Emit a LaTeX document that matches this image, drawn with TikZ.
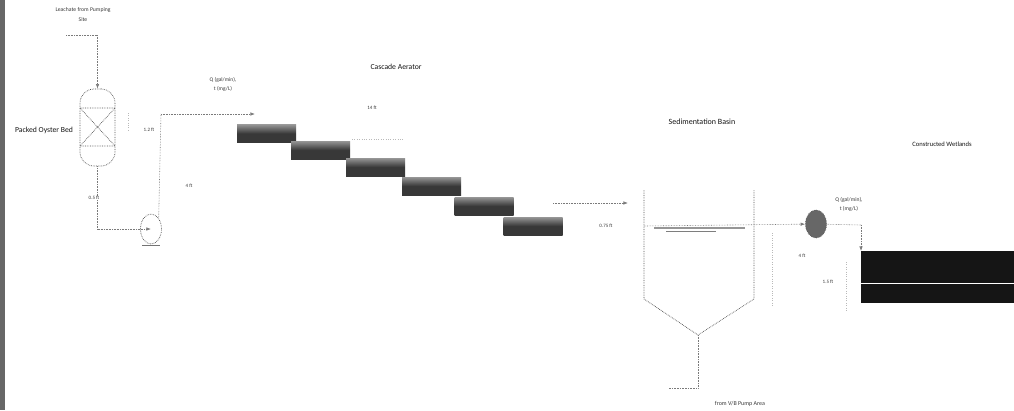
\documentclass[tikz,border=0pt]{standalone}
\usepackage{xcolor}
\usepackage{fontspec}
\setmainfont{Carlito}
\usetikzlibrary{arrows.meta,positioning,calc,shapes.geometric}
\definecolor{Ink}{HTML}{151515}
\definecolor{Pipe}{HTML}{7A7A7A}

\begin{document}
\begin{tikzpicture}[
  x=1pt, y=-1pt,
  pipe/.style={densely dotted, line width=0.6pt, draw=Pipe},
  shell/.style={line width=0.7pt, draw=Ink!75, densely dotted},
  arrow/.style={pipe, -{Latex[length=1.6mm]}},
  faint/.style={dotted, line width=0.4pt, draw=Ink!30},
  tray/.style={draw=none, inner sep=0pt, minimum width=59pt, minimum height=18pt, top color=Ink!45, bottom color=Ink!85, middle color=Ink!85},
  tag/.style={font=\fontsize{5pt}{6pt}\selectfont, text=Ink!85, align=center, inner sep=0pt},
  title/.style={font=\fontsize{7.7pt}{9pt}\selectfont, text=Ink, align=center, inner sep=0pt}
]
  \useasboundingbox (0,0) rectangle (1014,410);
  \fill[Ink!65] (0,0) rectangle (5,410);

  % oyster bed and pump
  \node[shell, draw, rounded corners=14pt, minimum width=35pt, minimum height=77pt, inner sep=0pt] (bed) at (97.5,127.5) {};
  \node[shell, draw, ellipse, minimum width=21pt, minimum height=30pt, inner sep=0pt] (pump) at (151,229) {};
  \coordinate (bedNW) at (80,108);
  \coordinate (bedNE) at (115,108);
  \coordinate (bedSW) at (80,146);
  \coordinate (bedSE) at (115,146);
  \draw[shell] (bedNW) -- (bedNE) -- (bedSW) -- (bedSE) -- (bedNW) -- cycle;
  \draw[line width=1pt, draw=Ink!60] (142,245) -- (160,245);
  \coordinate (feed) at (66,35);
  \coordinate (feedTurn) at (97.5,35);
  \coordinate (bedOut) at (97.5,229);
  \coordinate (riserTurn) at (161,114);
  \coordinate (riserEnd) at (255,114);

  % cascade trays
  \node[tray] (tray1) at (266.5,133.5) {};
  \node[tray] (tray2) at (320.5,150) {};
  \node[tray] (tray3) at (375.5,167) {};
  \node[tray] (tray4) at (431.5,186) {};
  \node[tray] (tray5) at (484,206) {};
  \node[tray] (tray6) at (533,226) {};
  \coordinate (dropA) at (553,203);
  \coordinate (dropB) at (628,203);

  % basin
  \coordinate (basinNW) at (644,190);
  \coordinate (basinNE) at (754,190);
  \coordinate (basinSW) at (644,299);
  \coordinate (basinSE) at (754,299);
  \coordinate (basinTip) at (698,335);
  \coordinate (drainTurn) at (698,388);
  \coordinate (drainEnd) at (669,388);
  \coordinate (levelW) at (644,226);
  \draw[shell] (basinNW) -- (basinSW) -- (basinTip) -- (basinSE) -- (basinNE);
  \draw[line width=1.2pt, draw=Ink!45] (654,228) -- (745,228);
  \draw[line width=0.8pt, draw=Ink!55] (666,231) -- (716,231);

  % wetlands
  \node[shell, draw=Ink!70, ellipse, fill=Ink!65, minimum width=21pt, minimum height=28pt, inner sep=0pt] (filter) at (816,224) {};
  \node[draw=none, fill=Ink, anchor=north west, minimum width=153pt, minimum height=52pt, inner sep=0pt] (wetland) at (861,251) {};
  \draw[white, line width=0.6pt] (wetland.west |- 0,283) -- (wetland.east |- 0,283);
  \coordinate (wetTurn) at (861,225);

  % pipes
  \draw[pipe] (feed) -- (feedTurn);
  \draw[arrow] (feedTurn) -- (bed.north);
  \draw[pipe] (bed.south) -- (bedOut);
  \draw[arrow] (bedOut) -- (pump.center);
  \draw[pipe] (pump.north east) -- (riserTurn);
  \draw[arrow] (riserTurn) -- (riserEnd);
  \draw[arrow] (dropA) -- (dropB);
  \draw[arrow] (levelW) -- (filter);
  \draw[pipe] (filter) -- (wetTurn);
  \draw[arrow] (wetTurn) -- (wetland.north west);
  \draw[pipe] (basinTip) -- (drainTurn) -- (drainEnd);

  % faint dimension marks
  \draw[faint] (128,113) -- (128,130);
  \draw[faint] (352,139) -- (403,139);
  \draw[faint] (772,233) -- (772,307);
  \draw[faint] (846,262) -- (846,312);

  % labels
  \node[tag, font=\fontsize{5.7pt}{10pt}\selectfont] (feedtxt) at (83,15) {Leachate from Pumping\\Site};
  \node[title, font=\fontsize{7.7pt}{9pt}\selectfont] (bedtxt) at (44,130) {Packed Oyster Bed};
  \node[tag] (bedh) at (149,130) {1.2 ft};
  \node[tag, fill=white] (bedl) at (94,198) {0.5 ft};
  \node[tag] (riser) at (189,186) {4 ft};
  \node[tag, font=\fontsize{5.5pt}{9pt}\selectfont] (qone) at (223,84) {Q (gal/min),\\t (mg/L)};
  \node[title, font=\fontsize{7.7pt}{9pt}\selectfont] (aerator) at (396,67) {Cascade Aerator};
  \node[tag] (fall) at (372,108) {14 ft};
  \node[tag] (step) at (606,226) {0.75 ft};
  \node[title, font=\fontsize{8pt}{9pt}\selectfont] (basin) at (702,122) {Sedimentation Basin};
  \node[title, font=\fontsize{6.6pt}{8pt}\selectfont] (wet) at (942,144) {Constructed Wetlands};
  \node[tag, font=\fontsize{5.6pt}{9pt}\selectfont] (qtwo) at (849,204) {Q (gal/min),\\t (mg/L)};
  \node[tag] (lvl) at (802,256) {4 ft};
  \node[tag] (wetdepth) at (828,282) {1.5 ft};
  \node[tag, font=\fontsize{6pt}{7pt}\selectfont] (pumptxt) at (740,404) {from V/B Pump Area};
\end{tikzpicture}
\end{document}
